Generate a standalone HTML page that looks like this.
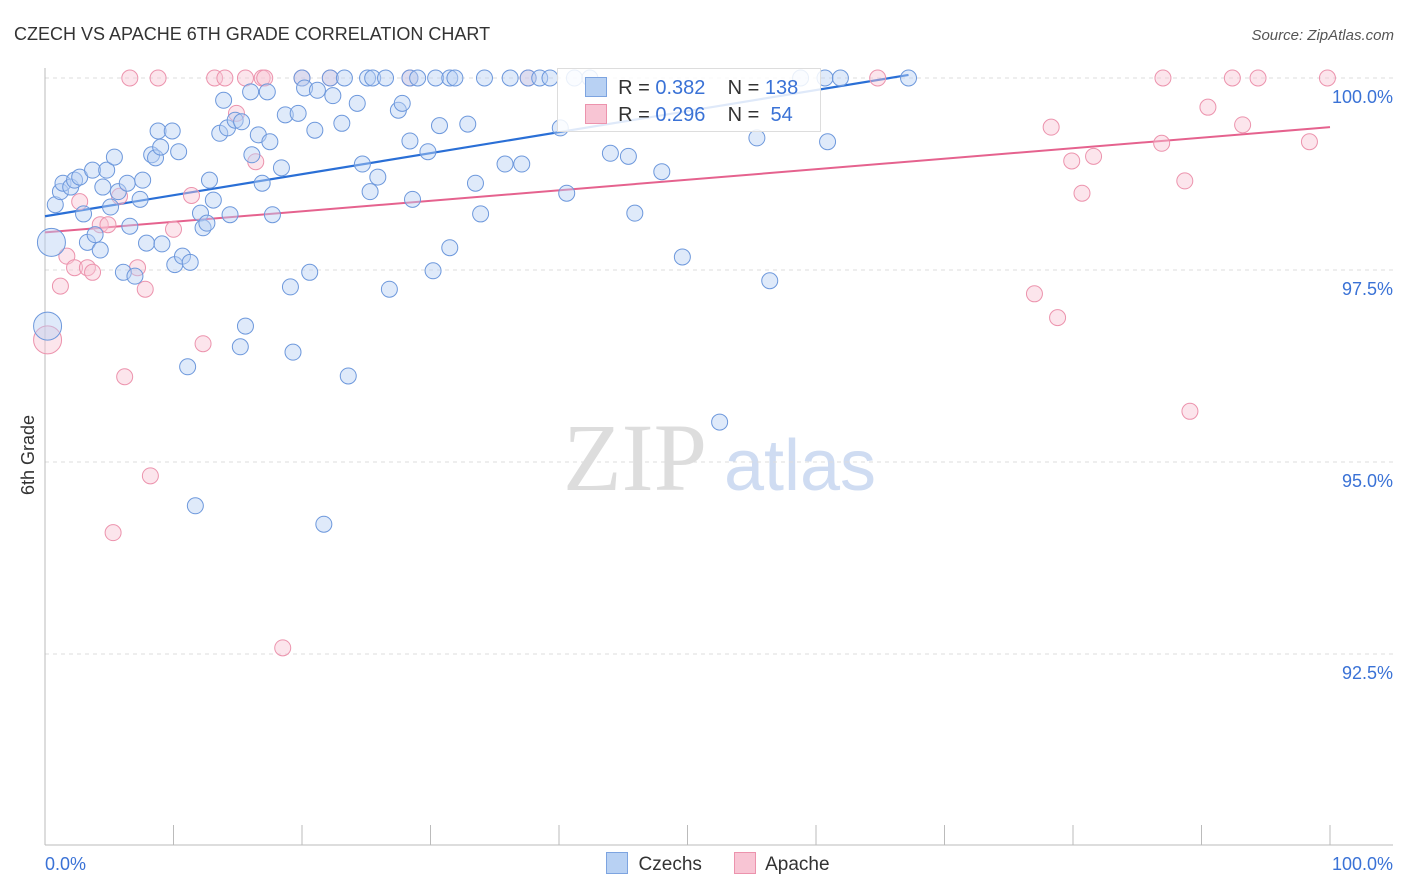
<!DOCTYPE html>
<html><head><meta charset="utf-8"><style>
body{margin:0;background:#fff;font-family:"Liberation Sans",sans-serif;}
#c{position:relative;width:1406px;height:892px;overflow:hidden;}
</style></head><body>
<div id="c">
<svg id="s" width="1406" height="892" xmlns="http://www.w3.org/2000/svg">
<text x="14" y="40" font-size="18" fill="#333">CZECH VS APACHE 6TH GRADE CORRELATION CHART</text>
<text x="1394" y="40" font-size="15" fill="#555" font-style="italic" text-anchor="end">Source: ZipAtlas.com</text>
<text x="34" y="455" font-size="18" fill="#333" transform="rotate(-90 34 455)" text-anchor="middle">6th Grade</text>
<g><text x="635" y="490" font-size="96" fill="#ddd" font-family="Liberation Serif,serif" text-anchor="middle">ZIP</text><text x="800" y="490" font-size="72" fill="#cfdcf2" text-anchor="middle">atlas</text></g>
<g id="grid"></g><g id="axes"></g><g id="trend"></g><g id="pts"></g>
</svg>
<div style="position:absolute;left:557px;top:68px;width:262px;height:62px;border:1px solid #ddd;background:rgba(255,255,255,.85);font-size:20px;color:#333">
<div style="position:absolute;left:27px;top:8px;white-space:pre"><span style="display:inline-block;width:20px;height:18px;background:#b8d1f3;border:1px solid #7da4e0;vertical-align:-3px"></span>  R = <span style="color:#3a72d6">0.382</span>    N = <span style="color:#3a72d6">138</span></div>
<div style="position:absolute;left:27px;top:35px;white-space:pre"><span style="display:inline-block;width:20px;height:18px;background:#f8c5d4;border:1px solid #ec93ad;vertical-align:-3px"></span>  R = <span style="color:#3a72d6">0.296</span>    N =  <span style="color:#3a72d6">54</span></div>
</div>
<div style="position:absolute;left:606px;top:852px;font-size:19px;color:#333;white-space:pre"><span style="display:inline-block;width:20px;height:20px;background:#b8d1f3;border:1px solid #7da4e0;vertical-align:-4px"></span>  Czechs      <span style="display:inline-block;width:20px;height:20px;background:#f8c5d4;border:1px solid #ec93ad;vertical-align:-4px"></span>  Apache</div>
</div>
<script>
const blueX=[0.8,1.2,1.4,2.0,2.3,2.7,3.7,4.8,5.4,4.5,5.7,6.4,7.6,7.4,5.1,3.0,0.5,3.3,3.9,4.3,6.6,7.9,9.1,6.1,7.0,10.1,10.7,11.3,8.3,8.6,9.0,8.8,9.9,10.4,12.1,12.3,12.6,12.8,13.1,13.6,14.2,13.9,14.8,15.3,14.4,16.1,16.6,16.9,17.5,16.0,17.3,17.7,18.4,18.7,19.7,20.0,20.2,21.0,21.2,22.2,22.4,23.1,23.3,24.3,24.7,25.1,25.3,25.9,25.5,26.5,27.5,27.8,28.4,28.6,28.4,29.0,29.8,30.7,30.4,31.5,31.9,32.9,33.5,33.9,34.2,35.8,36.2,37.1,37.6,38.5,39.3,40.6,40.1,41.2,42.4,44.0,45.4,45.9,48.0,49.6,52.5,55.4,56.4,58.8,60.7,61.9,60.9,67.2,31.5,30.2,26.8,20.6,19.1,15.6,15.2,19.3,11.1,23.6,11.7,21.7,0.2];
const blueY=[98.35,98.52,98.63,98.58,98.67,98.71,98.80,98.80,98.97,98.58,98.52,98.63,98.67,98.42,98.32,98.23,97.86,97.86,97.96,97.76,98.07,97.85,97.84,97.47,97.42,97.57,97.68,97.60,99.0,98.96,99.10,99.31,99.31,99.04,98.24,98.05,98.11,98.67,98.41,99.28,99.35,99.71,99.45,99.43,98.22,99.0,99.26,98.63,99.17,99.82,99.82,98.22,98.83,99.52,99.54,100,99.87,99.32,99.84,100,99.77,99.41,100,99.67,98.88,100,98.52,98.71,100,100,99.58,99.67,99.18,98.42,100,100,99.04,99.38,100,100,100,99.40,98.63,98.23,100,98.88,100,98.88,100,100,100,98.50,99.35,100,100,99.02,98.98,98.24,98.78,97.67,95.52,99.22,97.36,100,100,100,99.17,100,97.79,97.49,97.25,97.47,97.28,96.77,96.50,96.43,96.24,96.12,94.43,94.19,96.77];
const pinkX=[6.6,8.8,13.2,14.0,15.6,16.9,17.1,20.0,22.2,28.4,37.6,64.8,87.0,92.4,94.4,99.8,90.5,93.2,78.3,98.4,86.9,81.6,79.9,88.7,80.7,2.7,4.3,4.9,5.8,10.0,11.4,14.9,16.4,1.7,2.3,3.3,3.7,7.2,7.8,1.2,0.2,12.3,6.2,8.2,5.3,18.5,77.0,78.8,89.1];
const pinkY=[100,100,100,100,100,100,100,100,100,100,100,100,100,100,100,100,99.62,99.39,99.36,99.17,99.15,98.98,98.92,98.66,98.50,98.39,98.09,98.09,98.46,98.03,98.47,99.54,98.91,97.68,97.53,97.53,97.47,97.53,97.25,97.29,96.59,96.54,96.11,94.82,94.08,92.58,97.19,96.88,95.66];
const blueTrend=[0,98.20,67.2,100.04];
const pinkTrend=[0,97.99,100,99.36];
const yTicks=[100,97.5,95,92.5];
const yTickLabels=["100.0%","97.5%","95.0%","92.5%"];
const NS="http://www.w3.org/2000/svg";
const X=v=>45+v*12.85, Y=v=>78+(100-v)*76.8;
function mk(t,a,p){const e=document.createElementNS(NS,t);for(const k in a)e.setAttribute(k,a[k]);p.appendChild(e);return e;}
const grid=document.getElementById('grid'),axes=document.getElementById('axes'),tr=document.getElementById('trend'),pts=document.getElementById('pts');
yTicks.forEach((t,i)=>{
 const l=mk('line',{x1:45,x2:1393,y1:Y(t),y2:Y(t),stroke:'#ddd','stroke-dasharray':'4,4'},grid);
 
 
 const tx=mk('text',{x:1393,y:Y(t)+25,'font-size':18,fill:'#3a72d6','text-anchor':'end'},grid);tx.textContent=yTickLabels[i];
 
 
});
mk('line',{x1:45,x2:45,y1:68,y2:845,stroke:'#bbb'},axes);
mk('line',{x1:45,x2:1393,y1:845,y2:845,stroke:'#bbb'},axes);
for(let i=0;i<=10;i++){const t=mk('line',{x1:X(i*10),x2:X(i*10),y1:825,y2:845,stroke:'#bbb'},axes);
 
 }
let a=mk('text',{x:45,y:870,'font-size':18,fill:'#3a72d6'},axes);a.textContent='0.0%';


a=mk('text',{x:1393,y:870,'font-size':18,fill:'#3a72d6','text-anchor':'end'},axes);a.textContent='100.0%';


function dots(xs,ys,fill,stroke,name){xs.forEach((x,i)=>{
 const big=(x<0.6&&ys[i]<98.0&&ys[i]>96)?14:8;
 const c=mk('circle',{cx:X(x),cy:Y(ys[i]),r:big,fill:fill,stroke:stroke,'stroke-width':1,'fill-opacity':0.45},pts);
 
 
});}
dots(pinkX,pinkY,'#f8c5d4','#ec93ad','apache-point');
dots(blueX,blueY,'#b8d1f3','#6d98dc','czech-point');
let L=mk('line',{x1:X(blueTrend[0]),y1:Y(blueTrend[1]),x2:X(blueTrend[2]),y2:Y(blueTrend[3]),stroke:'#2a6fd6','stroke-width':2.2},tr);


L=mk('line',{x1:X(pinkTrend[0]),y1:Y(pinkTrend[1]),x2:X(pinkTrend[2]),y2:Y(pinkTrend[3]),stroke:'#e5628e','stroke-width':2},tr);


</script>
</body></html>
